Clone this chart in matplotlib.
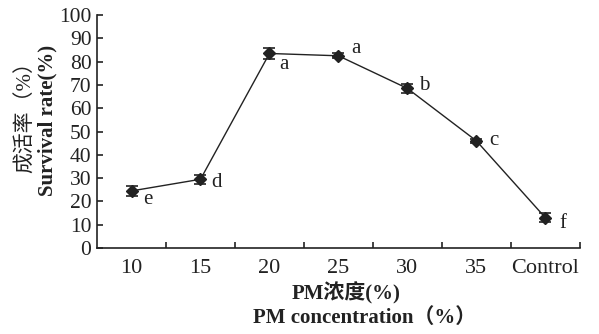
import numpy as np
import matplotlib.pyplot as plt

plt.rcParams['font.family'] = ['Liberation Serif', 'Noto Sans CJK SC']

# survival rate of each PM concentration, with error and significance letters
categories = ['10', '15', '20', '25', '30', '35', 'Control']
survival = [24.5, 29.5, 83.5, 82.5, 68.5, 46, 13]
errors = [2.0, 2.0, 2.5, 1.0, 2.0, 1.0, 2.0]
letters = ['e', 'd', 'a', 'a', 'b', 'c', 'f']
# letter offsets (points) relative to each marker
letter_offsets = [(8, -6), (8, -2), (7, -8), (9, 5), (8, 2), (9, 0), (10, -4)]

fig = plt.figure(figsize=(5.99, 3.34), dpi=100)
ax = fig.add_axes((0.162, 0.2575, 0.806, 0.6975))

x = np.arange(len(categories))
ax.errorbar(x, survival, yerr=errors, fmt='-D', color='#222222', lw=1.0,
            ms=6, capsize=4, elinewidth=1.0, capthick=1.2)

for xi, yi, lab, off in zip(x, survival, letters, letter_offsets):
    ax.annotate(lab, (xi, yi), xytext=off, textcoords='offset points',
                fontsize=15, ha='left', va='center', color='#222222')

ax.set_xlim(-0.5, len(categories) - 0.5)
ax.set_ylim(0, 100)
ax.set_yticks(np.arange(0, 101, 10))
ax.tick_params(axis='y', direction='in', length=4, width=1.2,
               labelsize=15.5, colors='#222222', pad=4)

# tick marks sit on the category boundaries, labels at the centres
ax.set_xticks(np.arange(0.5, len(categories) - 0.4, 1.0))
ax.set_xticklabels([])
ax.tick_params(axis='x', which='major', direction='in', length=4, width=1.2,
               colors='#222222')
ax.set_xticks(x, minor=True)
ax.set_xticklabels(categories, minor=True)
ax.tick_params(axis='x', which='minor', length=0, labelsize=16, pad=8,
               colors='#222222')

for side in ['top', 'right']:
    ax.spines[side].set_visible(False)
for side in ['left', 'bottom']:
    ax.spines[side].set_linewidth(1.2)
    ax.spines[side].set_color('#222222')

fig.text(0.043, 0.665, '成活率（%）', rotation=90, ha='center', va='center',
         fontsize=15, color='#222222')
fig.text(0.079, 0.64, 'Survival rate(%)', rotation=90, ha='center',
         va='center', fontsize=15, fontweight='bold', color='#222222')
fig.text(0.578, 0.122, 'PM浓度(%)', ha='center', va='center', fontsize=15,
         fontweight='bold', color='#222222')
fig.text(0.608, 0.048, 'PM concentration（%）', ha='center', va='center',
         fontsize=15, fontweight='bold', color='#222222')

fig.savefig('out.png', dpi=100)
